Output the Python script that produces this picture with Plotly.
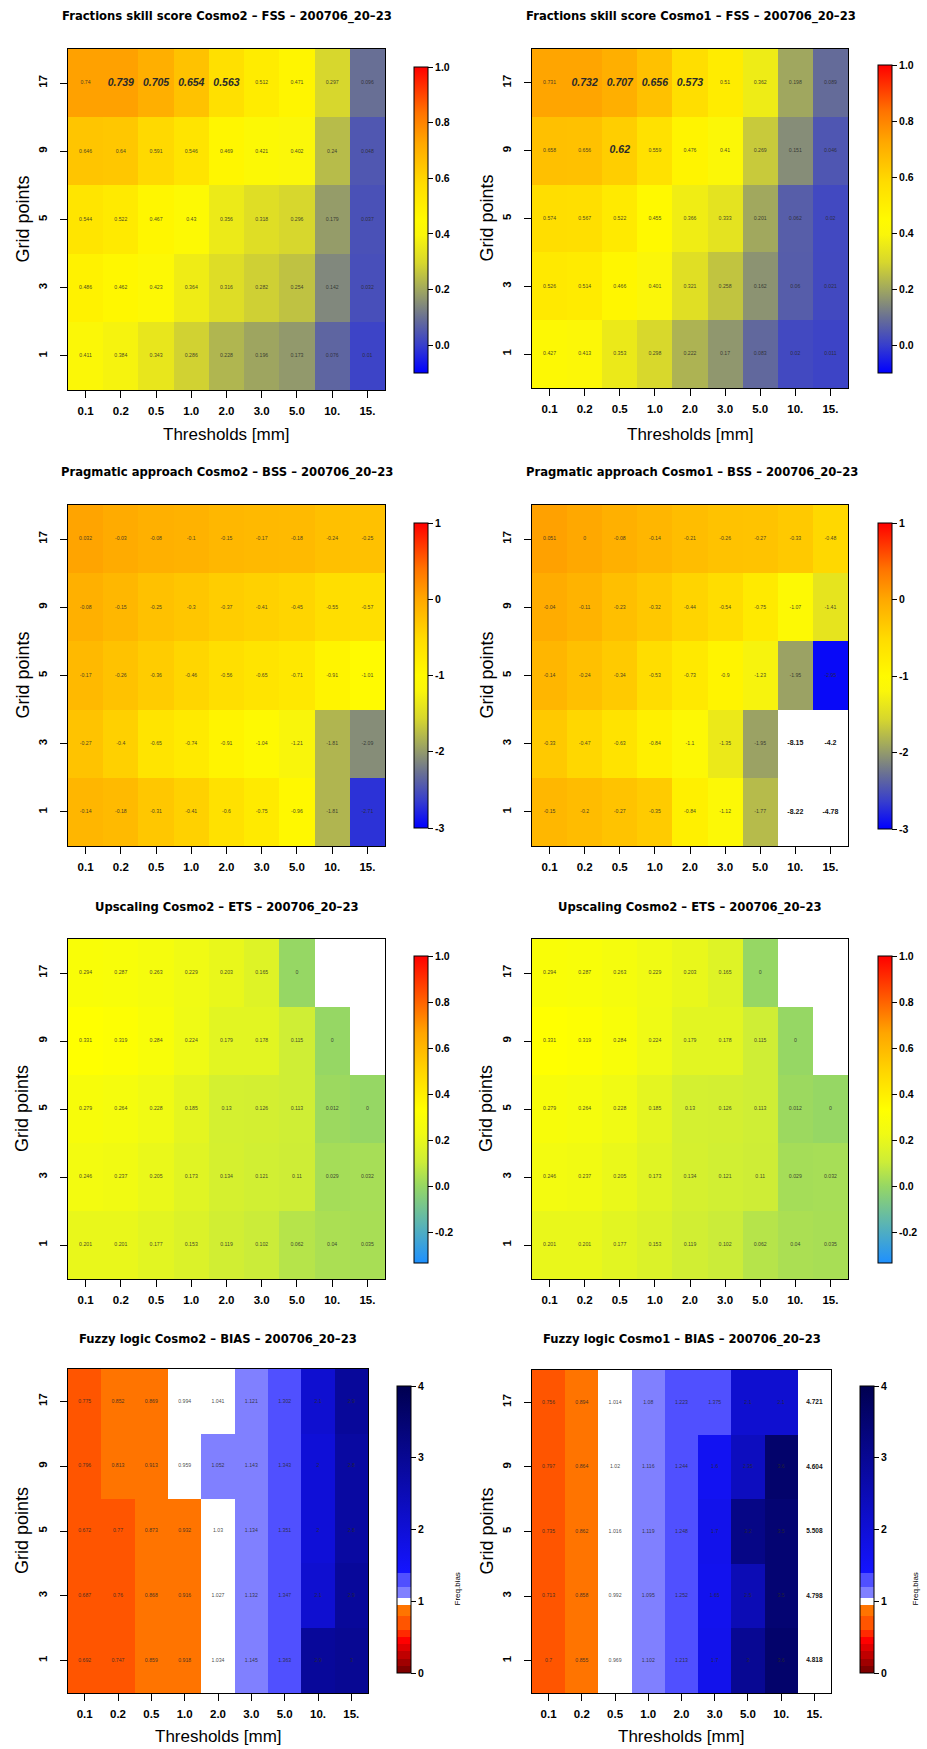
import plotly.graph_objects as go

W, H = 927, 1749

# ---------------- data ----------------
thresholds = ['0.1', '0.2', '0.5', '1.0', '2.0', '3.0', '5.0', '10.', '15.']
grid_points = ['1', '3', '5', '9', '17']   # bottom -> top

fss_cosmo2 = [
    [0.411, 0.384, 0.343, 0.286, 0.228, 0.196, 0.173, 0.076, 0.01],
    [0.486, 0.462, 0.423, 0.364, 0.316, 0.282, 0.254, 0.142, 0.032],
    [0.544, 0.522, 0.467, 0.430, 0.356, 0.318, 0.296, 0.179, 0.037],
    [0.646, 0.64, 0.591, 0.546, 0.469, 0.421, 0.402, 0.24, 0.048],
    [0.740, 0.739, 0.705, 0.654, 0.563, 0.512, 0.471, 0.297, 0.096],
]
fss_cosmo1 = [
    [0.427, 0.413, 0.353, 0.298, 0.222, 0.17, 0.083, 0.02, 0.011],
    [0.526, 0.514, 0.466, 0.401, 0.321, 0.258, 0.162, 0.06, 0.021],
    [0.574, 0.567, 0.522, 0.455, 0.366, 0.333, 0.201, 0.062, 0.02],
    [0.658, 0.656, 0.62, 0.559, 0.476, 0.41, 0.269, 0.151, 0.046],
    [0.731, 0.732, 0.707, 0.656, 0.573, 0.510, 0.362, 0.198, 0.089],
]
bss_cosmo2 = [
    [-0.14, -0.18, -0.31, -0.41, -0.6, -0.75, -0.96, -1.81, -2.71],
    [-0.27, -0.40, -0.65, -0.74, -0.91, -1.04, -1.21, -1.81, -2.09],
    [-0.17, -0.26, -0.36, -0.46, -0.56, -0.65, -0.71, -0.91, -1.01],
    [-0.08, -0.15, -0.25, -0.3, -0.37, -0.41, -0.45, -0.55, -0.57],
    [0.032, -0.03, -0.08, -0.1, -0.15, -0.17, -0.18, -0.24, -0.25],
]
bss_cosmo1 = [
    [-0.15, -0.2, -0.27, -0.35, -0.84, -1.12, -1.77, -8.22, -4.78],
    [-0.33, -0.47, -0.63, -0.84, -1.1, -1.35, -1.95, -8.15, -4.2],
    [-0.14, -0.24, -0.34, -0.53, -0.73, -0.9, -1.23, -1.95, -2.95],
    [-0.04, -0.11, -0.23, -0.32, -0.44, -0.54, -0.75, -1.07, -1.41],
    [0.051, 0, -0.08, -0.14, -0.21, -0.26, -0.27, -0.33, -0.48],
]
ets_cosmo2 = [
    [0.201, 0.201, 0.177, 0.153, 0.119, 0.102, 0.062, 0.04, 0.035],
    [0.246, 0.237, 0.205, 0.173, 0.134, 0.121, 0.11, 0.029, 0.032],
    [0.279, 0.264, 0.228, 0.185, 0.130, 0.126, 0.113, 0.012, 0],
    [0.331, 0.319, 0.284, 0.224, 0.179, 0.178, 0.115, 0, None],
    [0.294, 0.287, 0.263, 0.229, 0.203, 0.165, 0, None, None],
]
bias_cosmo2 = [
    [0.692, 0.747, 0.859, 0.918, 1.034, 1.145, 1.363, 2.9, 3.0],
    [0.687, 0.76, 0.868, 0.916, 1.027, 1.132, 1.347, 2.1, 2.9],
    [0.672, 0.77, 0.873, 0.932, 1.03, 1.134, 1.351, 2.0, 2.8],
    [0.796, 0.813, 0.913, 0.959, 1.052, 1.143, 1.343, 2.0, 2.8],
    [0.775, 0.852, 0.869, 0.994, 1.041, 1.121, 1.302, 2.1, 2.9],
]
bias_cosmo1 = [
    [0.7, 0.855, 0.969, 1.102, 1.213, 1.7, 3.0, 3.6, 4.818],
    [0.713, 0.858, 0.992, 1.095, 1.252, 1.65, 2.5, 3.5, 4.798],
    [0.735, 0.862, 1.016, 1.119, 1.248, 1.7, 3.2, 3.5, 5.508],
    [0.797, 0.864, 1.02, 1.116, 1.244, 1.6, 2.35, 3.6, 4.604],
    [0.756, 0.894, 1.014, 1.08, 1.223, 1.375, 2.1, 2.1, 4.721],
]

# emphasised cells (row index, column index)
fss_cosmo2_marked = [(4, 1), (4, 2), (4, 3), (4, 4)]
fss_cosmo1_marked = [(4, 1), (4, 2), (4, 3), (4, 4), (3, 2)]

fss_ticks = [0.0, 0.2, 0.4, 0.6, 0.8, 1.0]
fss_ticklabels = ['0.0', '0.2', '0.4', '0.6', '0.8', '1.0']
bss_ticks = [-3, -2, -1, 0, 1]
bss_ticklabels = ['-3', '-2', '-1', '0', '1']
ets_ticks = [-0.2, 0.0, 0.2, 0.4, 0.6, 0.8, 1.0]
ets_ticklabels = ['-0.2', '0.0', '0.2', '0.4', '0.6', '0.8', '1.0']
bias_ticks = [0, 1, 2, 3, 4]
bias_ticklabels = ['0', '1', '2', '3', '4']

# ---------------- styles ----------------
FONT = 'Liberation Sans, Arial, sans-serif'
TFONT = 'DejaVu Sans, Liberation Sans, sans-serif'

cs_main = [
    [0.00, 'rgb(0,0,255)'], [0.09, 'rgb(55,62,205)'], [0.18, 'rgb(105,112,148)'],
    [0.28, 'rgb(165,172,90)'], [0.36, 'rgb(215,215,45)'], [0.45, 'rgb(250,246,10)'],
    [0.50, 'rgb(255,250,0)'], [0.62, 'rgb(255,220,0)'], [0.75, 'rgb(255,168,0)'],
    [0.85, 'rgb(255,115,0)'], [1.00, 'rgb(255,0,0)'],
]
cs_ets = [
    [0.00, 'rgb(30,144,255)'], [0.125, 'rgb(90,180,180)'], [0.25, 'rgb(150,215,100)'],
    [0.33, 'rgb(205,237,55)'], [0.42, 'rgb(240,250,20)'], [0.50, 'rgb(255,255,0)'],
    [0.62, 'rgb(255,215,0)'], [0.75, 'rgb(255,165,0)'], [1.00, 'rgb(255,0,0)'],
]


def discrete_scale(bounds, colors, zmax, tail):
    scale = []
    for (lo, hi), c in zip(zip(bounds[:-1], bounds[1:]), colors):
        scale.append([lo / zmax, c])
        scale.append([hi / zmax, c])
    for v, c in tail:
        scale.append([v / zmax, c])
    return scale


bias_bounds = [0, 0.1, 0.2, 0.3, 0.4, 0.5, 0.6, 0.8, 0.95, 1.05, 1.2, 1.4]
bias_colors = ['#800000', '#A00000', '#C00000', '#E00000', '#FF0000', '#FF2A00',
               '#FF5500', '#FF7400', '#FFFFFF', '#8080FF', '#5050FF']
cs_bias = discrete_scale(bias_bounds, bias_colors, 4.0,
                         [(1.4, '#1414FF'), (4.0, '#000050')])

panels = [
    dict(data=fss_cosmo2, title='Fractions skill score Cosmo2 – FSS – 200706_20–23',
         zmin=-0.1, zmax=1.0, cs=cs_main, ticks=fss_ticks, tl=fss_ticklabels,
         plot=(68, 385, 49, 390), cb=(414, 67, 373), tx=227, ty=16,
         marked=fss_cosmo2_marked, xtitle=434, bold_out=7),
    dict(data=fss_cosmo1, title='Fractions skill score Cosmo1 – FSS – 200706_20–23',
         zmin=-0.1, zmax=1.0, cs=cs_main, ticks=fss_ticks, tl=fss_ticklabels,
         plot=(532, 848, 49, 388), cb=(878, 65, 373), tx=691, ty=16,
         marked=fss_cosmo1_marked, xtitle=434, bold_out=7),
    dict(data=bss_cosmo2, title='Pragmatic approach Cosmo2 – BSS – 200706_20–23',
         zmin=-3, zmax=1, cs=cs_main, ticks=bss_ticks, tl=bss_ticklabels,
         plot=(68, 385, 505, 846), cb=(414, 523, 828), tx=227, ty=473,
         marked=[], xtitle=None, bold_out=7),
    dict(data=bss_cosmo1, title='Pragmatic approach Cosmo1 – BSS – 200706_20–23',
         zmin=-3, zmax=1, cs=cs_main, ticks=bss_ticks, tl=bss_ticklabels,
         plot=(532, 848, 505, 846), cb=(878, 523, 829), tx=692, ty=473,
         marked=[], xtitle=None, bold_out=7),
    dict(data=ets_cosmo2, title='Upscaling Cosmo2 – ETS – 200706_20–23',
         zmin=-1 / 3, zmax=1.0, cs=cs_ets, ticks=ets_ticks, tl=ets_ticklabels,
         plot=(68, 385, 939, 1279), cb=(414, 956, 1263), tx=227, ty=907,
         marked=[], xtitle=None, bold_out=7),
    dict(data=ets_cosmo2, title='Upscaling Cosmo2 – ETS – 200706_20–23',
         zmin=-1 / 3, zmax=1.0, cs=cs_ets, ticks=ets_ticks, tl=ets_ticklabels,
         plot=(532, 848, 939, 1279), cb=(878, 956, 1263), tx=690, ty=907,
         marked=[], xtitle=None, bold_out=7),
    dict(data=bias_cosmo2, title='Fuzzy logic Cosmo2 – BIAS – 200706_20–23',
         zmin=0, zmax=4, cs=cs_bias, ticks=bias_ticks, tl=bias_ticklabels,
         plot=(68, 368, 1369, 1693), cb=(397, 1386, 1673), tx=218, ty=1339,
         marked=[], xtitle=1736, bold_out=6.5, cbtitle=457),
    dict(data=bias_cosmo1, title='Fuzzy logic Cosmo1 – BIAS – 200706_20–23',
         zmin=0, zmax=4, cs=cs_bias, ticks=bias_ticks, tl=bias_ticklabels,
         plot=(532, 831, 1370, 1693), cb=(860, 1386, 1673), tx=682, ty=1339,
         marked=[], xtitle=1736, bold_out=6.5, cbtitle=915),
]


def fx(px):
    return px / W


def fy(py):
    return 1 - py / H


def fmt(v):
    return f"{round(v, 3):g}"


fig = go.Figure()
annotations = []
layout_axes = {}

for k, p in enumerate(panels, start=1):
    xname = 'x' if k == 1 else f'x{k}'
    yname = 'y' if k == 1 else f'y{k}'
    data = p['data']
    zmin, zmax = p['zmin'], p['zmax']
    z = [[(v if (v is not None and zmin <= v <= zmax) else None) for v in row] for row in data]

    l, r, t, b = p['plot']
    cbx, cbt, cbb = p['cb']
    fig.add_trace(go.Heatmap(
        x=thresholds, y=grid_points, z=z, zmin=zmin, zmax=zmax,
        colorscale=p['cs'], xaxis=xname, yaxis=yname, hoverinfo='skip',
        colorbar=dict(
            x=fx(cbx), xanchor='left', y=fy(cbt), yanchor='top',
            len=(cbb - cbt) / H, lenmode='fraction', thickness=14,
            thicknessmode='pixels', xpad=0, ypad=0, outlinecolor='black',
            outlinewidth=1, ticks='outside', ticklen=5, tickcolor='black',
            tickwidth=1, tickvals=p['ticks'], ticktext=p['tl'],
            tickfont=dict(family=FONT, size=10.5, color='black', weight='bold'),
        ),
    ))

    xs, ys, txt, sizes, colors = [], [], [], [], []
    for i, row in enumerate(data):
        for j, v in enumerate(row):
            if v is None:
                continue
            s = fmt(v)
            xs.append(thresholds[j])
            ys.append(grid_points[i])
            if (i, j) in p['marked']:
                txt.append(f'<b><i>{s}</i></b>')
                sizes.append(10.5)
                colors.append('#2a2a2a')
            elif v < zmin or v > zmax:
                txt.append(f'<b>{s}</b>')
                sizes.append(p['bold_out'])
                colors.append('#111111')
            else:
                txt.append(s)
                sizes.append(5.2)
                colors.append('rgba(40,40,40,0.85)')
    fig.add_trace(go.Scatter(
        x=xs, y=ys, text=txt, mode='text', xaxis=xname, yaxis=yname,
        textfont=dict(family=FONT, size=sizes, color=colors),
        hoverinfo='skip', showlegend=False,
    ))

    axis_common = dict(
        showline=True, linecolor='black', linewidth=1.3, mirror=True,
        ticks='outside', ticklen=7, tickwidth=1.2, tickcolor='black',
        showgrid=False, zeroline=False, fixedrange=True, type='category',
        tickfont=dict(family=FONT, size=11.5, color='black', weight='bold'),
    )
    xkey = 'xaxis' if k == 1 else f'xaxis{k}'
    ykey = 'yaxis' if k == 1 else f'yaxis{k}'
    layout_axes[xkey] = dict(axis_common, domain=[fx(l), fx(r)], anchor=yname,
                             categoryorder='array', categoryarray=thresholds,
                             range=[-0.5, 8.5], ticklabelstandoff=3)
    layout_axes[ykey] = dict(axis_common, domain=[fy(b), fy(t)], anchor=xname,
                             categoryorder='array', categoryarray=grid_points,
                             range=[-0.5, 4.5], tickangle=-90, ticklabelstandoff=8)

    annotations.append(dict(
        text=f'<b>{p["title"]}</b>', x=fx(p['tx']), y=fy(p['ty']),
        xref='paper', yref='paper', showarrow=False, xanchor='center',
        yanchor='middle', font=dict(family=TFONT, size=11.6, color='black')))
    annotations.append(dict(
        text='Grid points', x=fx(l - 46), y=fy((t + b) / 2), xref='paper',
        yref='paper', showarrow=False, textangle=-90, xanchor='center',
        yanchor='middle', font=dict(family=FONT, size=18, color='black')))
    if p['xtitle'] is not None:
        annotations.append(dict(
            text='Thresholds [mm]', x=fx((l + r) / 2), y=fy(p['xtitle']),
            xref='paper', yref='paper', showarrow=False, xanchor='center',
            yanchor='middle', font=dict(family=FONT, size=17, color='black')))
    if 'cbtitle' in p:
        annotations.append(dict(
            text='Freq.bias', x=fx(p['cbtitle']), y=fy((cbt + cbb) / 2 + 60),
            xref='paper', yref='paper', showarrow=False, textangle=-90,
            xanchor='center', yanchor='middle',
            font=dict(family=FONT, size=8, color='black')))

fig.update_layout(
    width=W, height=H, margin=dict(l=0, r=0, t=0, b=0, autoexpand=False),
    paper_bgcolor='white', plot_bgcolor='white', showlegend=False,
    annotations=annotations, **layout_axes,
)

fig.write_html(
    'out.html',
    config={'displayModeBar': False},
    post_script="document.body.style.margin='0';document.body.style.overflow='hidden';",
)
